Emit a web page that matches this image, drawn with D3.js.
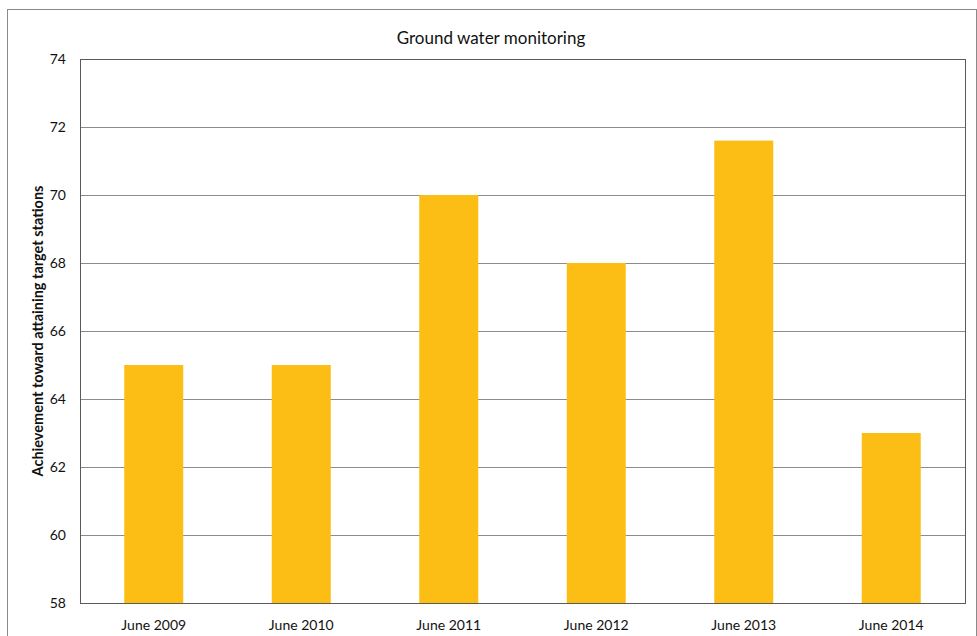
<!DOCTYPE html>
<html>
<head>
<meta charset="utf-8">
<script src="https://cdn.jsdelivr.net/npm/d3@7"></script>
<style>
  html, body { margin: 0; padding: 0; background: #fff; }
  svg { display: block; font-family: Lato, "Open Sans", "Liberation Sans", sans-serif; }
</style>
</head>
<body>
<svg id="chart" width="977" height="636"></svg>
<script>
// Ground water monitoring: share of target stations attained, by year
const categories = ["June 2009", "June 2010", "June 2011", "June 2012", "June 2013", "June 2014"];
const achievement = [65, 65, 70, 68, 71.6, 63];
const yTicks = [58, 60, 62, 64, 66, 68, 70, 72, 74];

const svg = d3.select("#chart");
const plot = { left: 80, top: 59, right: 965, bottom: 603 };

// chart frame
svg.append("rect")
  .attr("x", 7.5).attr("y", 9.5)
  .attr("width", 969).attr("height", 640)
  .attr("fill", "none").attr("stroke", "#8a8a8a").attr("stroke-width", 1);

const x = d3.scaleBand()
  .domain(categories)
  .range([plot.left, plot.right])
  .paddingInner(0.6).paddingOuter(0.3);

const y = d3.scaleLinear()
  .domain([58, 74])
  .range([plot.bottom, plot.top]);

// horizontal gridlines
svg.append("g")
  .selectAll("line")
  .data(yTicks.slice(1, -1))
  .join("line")
  .attr("x1", plot.left).attr("x2", plot.right)
  .attr("y1", d => Math.round(y(d)) + 0.5).attr("y2", d => Math.round(y(d)) + 0.5)
  .attr("stroke", "#8c8c8c").attr("stroke-width", 1);

// bars
svg.append("g")
  .selectAll("rect")
  .data(categories.map((c, i) => ({ c, v: achievement[i] })))
  .join("rect")
  .attr("x", d => x(d.c))
  .attr("width", x.bandwidth())
  .attr("y", d => y(d.v))
  .attr("height", d => y(58) - y(d.v))
  .attr("fill", "#FCBE14");

// plot area border
svg.append("rect")
  .attr("x", plot.left + 0.5).attr("y", plot.top + 0.5)
  .attr("width", plot.right - plot.left).attr("height", plot.bottom - plot.top)
  .attr("fill", "none").attr("stroke", "#5a5a5a").attr("stroke-width", 1);

// y axis
const yAxis = d3.axisLeft(y).tickValues(yTicks).tickSize(0).tickPadding(14).tickFormat(d3.format("d"));
const gy = svg.append("g").attr("transform", `translate(${plot.left},0)`).call(yAxis);
gy.select(".domain").remove();
gy.selectAll("text").attr("font-size", 14).attr("fill", "#111").style("font-family", "Lato, 'Open Sans', sans-serif");

// x axis
const xAxis = d3.axisBottom(x).tickSize(0).tickPadding(17);
const gx = svg.append("g").attr("transform", `translate(0,${plot.bottom})`).call(xAxis);
gx.select(".domain").remove();
gx.selectAll("text").attr("font-size", 14).attr("fill", "#111").style("font-family", "Lato, 'Open Sans', sans-serif");

// title
svg.append("text")
  .attr("x", 491).attr("y", 44)
  .attr("text-anchor", "middle")
  .attr("font-size", 17).attr("fill", "#111")
  .text("Ground water monitoring");

// y axis title
svg.append("text")
  .attr("transform", `translate(43,${(plot.top + plot.bottom) / 2}) rotate(-90)`)
  .attr("text-anchor", "middle")
  .attr("font-size", 14.5).attr("font-weight", "bold").attr("fill", "#111")
  .text("Achievement toward attaining target stations");
</script>
</body>
</html>
